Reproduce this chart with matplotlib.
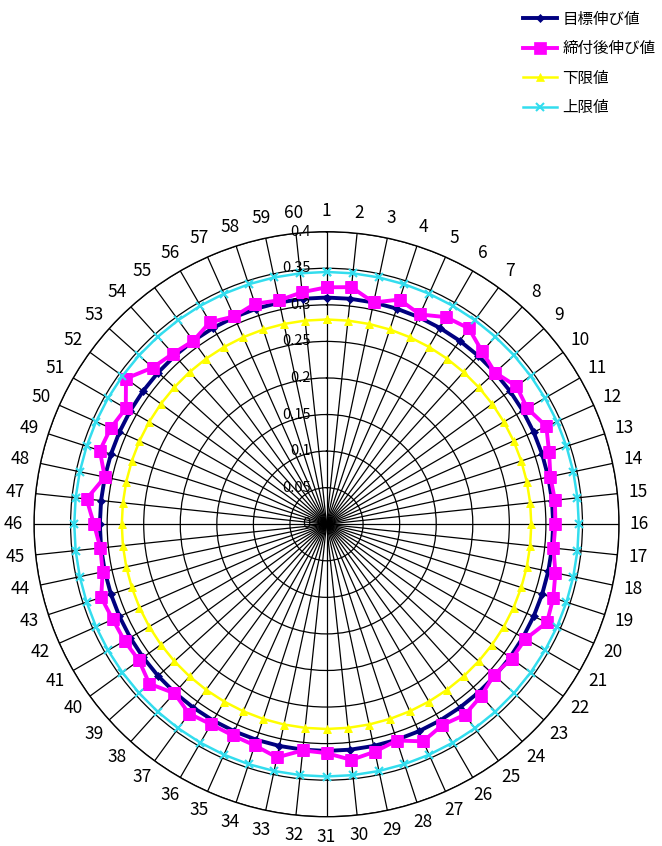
import numpy as np
import matplotlib
matplotlib.use('Agg')
import matplotlib.pyplot as plt

plt.rcParams['font.family'] = ['Noto Sans CJK JP', 'DejaVu Sans']

# --- data ---
points = [str(i) for i in range(1, 61)]
target = [0.31] * 60
tightened = [0.324, 0.326, 0.310, 0.323, 0.314, 0.327, 0.331, 0.318, 0.310, 0.321,
             0.317, 0.329, 0.320, 0.313, 0.314, 0.313, 0.312, 0.320, 0.326, 0.330,
             0.314, 0.313, 0.308, 0.316, 0.322, 0.317, 0.325, 0.311, 0.318, 0.324,
             0.313, 0.311, 0.326, 0.318, 0.316, 0.316, 0.320, 0.311, 0.326, 0.317,
             0.319, 0.320, 0.324, 0.313, 0.311, 0.318, 0.330, 0.310, 0.326, 0.323,
             0.317, 0.339, 0.320, 0.314, 0.310, 0.319, 0.311, 0.317, 0.313, 0.319]
lower = [0.28] * 60
upper = [0.345] * 60
r_ticks = [0, 0.05, 0.1, 0.15, 0.2, 0.25, 0.3, 0.35, 0.4]
r_tick_labels = ['0', '0.05', '0.1', '0.15', '0.2', '0.25', '0.3', '0.35', '0.4']

series = [
    ('目標伸び値', target, '#000080', 'D', 4.5, 2.8),
    ('締付後伸び値', tightened, '#FF00FF', 's', 9, 2.8),
    ('下限値', lower, '#FFFF00', '^', 6, 1.8),
    ('上限値', upper, '#33DDEE', 'x', 6, 1.8),
]

n = len(points)
theta = np.deg2rad(np.arange(n) * 360.0 / n)
theta_c = np.append(theta, theta[0])

fig = plt.figure(figsize=(6.62, 8.46), dpi=100)
ax = fig.add_axes([0.0514, 0.0346, 0.8837, 0.6915], projection='polar')
ax.set_theta_zero_location('N')
ax.set_theta_direction(-1)
ax.set_ylim(0, 0.4)

# grid
ax.set_thetagrids(np.arange(n) * 360.0 / n, labels=[''] * n)
ax.set_rgrids(r_ticks[1:], labels=[''] * (len(r_ticks) - 1))
ax.grid(True, color='black', linewidth=0.9)
ax.spines['polar'].set_color('black')
ax.spines['polar'].set_linewidth(1.0)
ax.tick_params(length=0)

lines = []
for name, vals, col, mk, ms, lw in series:
    v = np.append(vals, vals[0])
    mew = 1.5 if mk == 'x' else 0.5
    ln, = ax.plot(theta_c, v, color=col, marker=mk, markersize=ms, linewidth=lw,
                  markeredgecolor=col, markeredgewidth=mew, label=name, zorder=3)
    lines.append(ln)

# category labels
for t, lab in zip(theta, points):
    ax.text(t, 0.428, lab, ha='center', va='center', fontsize=12.5, clip_on=False)

# radial value labels
for r, lab in zip(r_ticks, r_tick_labels):
    ax.annotate(lab, xy=(0, r), xytext=(-16, 0), textcoords='offset pixels',
                ha='right', va='center', fontsize=10.5, zorder=5)

fig.legend(handles=lines, loc='upper left', bbox_to_anchor=(0.774, 1.0),
           frameon=False, fontsize=11.2, handlelength=2.2, labelspacing=0.8,
           handletextpad=0.3, borderpad=0.2)

fig.savefig('out.png', dpi=100)
